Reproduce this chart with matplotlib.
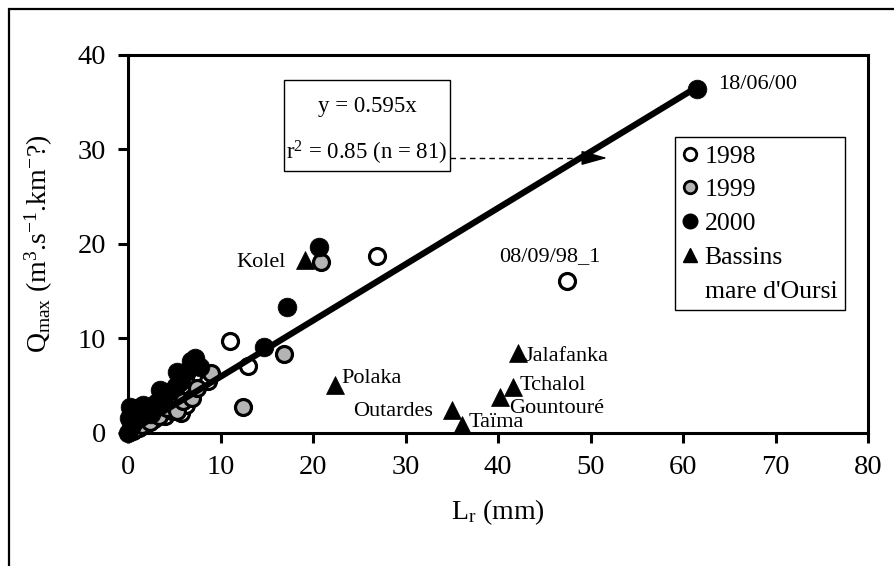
import numpy as np
import matplotlib
matplotlib.use("Agg")
import matplotlib.pyplot as plt
from matplotlib.lines import Line2D
from matplotlib.patches import Rectangle

plt.rcParams['font.family'] = ['Liberation Serif', 'DejaVu Serif']
plt.rcParams['mathtext.fontset'] = 'custom'
plt.rcParams['mathtext.rm'] = 'Liberation Serif'
plt.rcParams['mathtext.it'] = 'Liberation Serif:italic'

# data (Lr in mm, Qmax in m3/s/km2)
x1998 = [0.5, 1.2, 2.0, 2.8, 4.0, 4.8, 5.7, 6.3, 6.6, 7.4, 7.9, 8.6, 11.0, 13.0, 26.9, 47.4]
y1998 = [0.2, 0.5, 0.9, 1.5, 1.8, 2.3, 2.1, 3.0, 4.6, 5.2, 5.8, 5.5, 9.7, 7.1, 18.7, 16.1]

x1999 = [0.8, 1.5, 2.4, 3.4, 4.2, 5.3, 6.0, 6.9, 7.5, 9.0, 12.4, 16.9, 20.9]
y1999 = [0.4, 0.8, 1.2, 1.8, 2.6, 2.3, 3.4, 3.7, 4.8, 6.3, 2.8, 8.4, 18.1]

x2000 = [0.0, 0.3, 0.1, 0.2, 1.0, 1.6, 2.5, 3.0, 3.8, 3.5, 4.3, 5.2, 5.6, 5.3,
         6.4, 6.8, 7.2, 7.8, 0.6, 1.2, 14.7, 17.2, 20.6, 61.5]
y2000 = [0.0, 0.6, 1.6, 2.7, 2.6, 3.0, 2.0, 3.2, 3.8, 4.6, 4.3, 5.0, 5.4, 6.5,
         6.6, 7.6, 7.9, 7.0, 1.2, 1.8, 9.1, 13.3, 19.7, 36.4]

basins = ['Kolel', 'Polaka', 'Outardes', 'Taïma', 'Gountouré', 'Tchalol', 'Jalafanka']
x_basins = [19.1, 22.4, 35.0, 36.1, 40.2, 41.6, 42.2]
y_basins = [18.3, 5.1, 2.4, 0.8, 3.8, 4.9, 8.5]

slope = 0.595
x_fit_max = 61.5

fig = plt.figure(figsize=(8.95, 5.66), dpi=100, facecolor="white")
ax = fig.add_axes([0.143, 0.235, 0.827, 0.668])

# outer frame of the figure (only left and top edges visible)
fig.patches.append(Rectangle((0.010, -0.1), 1.2, 1.084, transform=fig.transFigure,
                             fill=False, edgecolor='black', linewidth=1.6))

xf = np.array([0, x_fit_max])
ax.plot(xf, slope * xf, color='black', linewidth=4.5, zorder=4, solid_capstyle='butt')

ax.plot(x1998, y1998, 'o', ms=11.5, mfc='white', mec='black', mew=2.3, clip_on=False, zorder=3)
ax.plot(x1999, y1999, 'o', ms=11.5, mfc='#b4b4b4', mec='black', mew=2.3, clip_on=False, zorder=3)
ax.plot(x2000, y2000, 'o', ms=13.5, mfc='black', mec='black', mew=0.5, clip_on=False, zorder=3)
ax.plot(x_basins, y_basins, '^', ms=13, mfc='black', mec='black', mew=0.5, clip_on=False, zorder=3)

fs = 16
ax.text(63.8, 36.4, '18/06/00', fontsize=fs, ha='left', va='baseline')
ax.text(45.6, 18.2, '08/09/98_1', fontsize=fs, ha='center', va='baseline')
ax.text(17.0, 17.6, 'Kolel', fontsize=fs, ha='right', va='baseline')
ax.text(23.1, 5.3, 'Polaka', fontsize=fs, ha='left', va='baseline')
ax.text(33.0, 1.8, 'Outardes', fontsize=fs, ha='right', va='baseline')
ax.text(36.8, 0.6, 'Taïma', fontsize=fs, ha='left', va='baseline')
ax.text(41.2, 2.1, 'Gountouré', fontsize=fs, ha='left', va='baseline')
ax.text(42.3, 4.55, 'Tchalol', fontsize=fs, ha='left', va='baseline')
ax.text(42.9, 7.6, 'Jalafanka', fontsize=fs, ha='left', va='baseline')

# regression equation box and arrow
ax.add_patch(Rectangle((16.9, 27.7), 17.9, 9.6, fill=False, edgecolor='black',
                       linewidth=1.0, zorder=5))
ax.text(25.85, 34.5, 'y = 0.595x', fontsize=16.5, ha='center', va='center')
ax.text(25.85, 29.6, r'r$^\mathregular{2}$ = 0.85 (n = 81)', fontsize=16.5, ha='center', va='center')
ax.plot([34.8, 50.0], [29.1, 29.1], color='black', linewidth=1.0, linestyle=(0, (4, 3)))
ax.annotate('', xy=(51.8, 29.1), xytext=(49.0, 29.1),
            arrowprops=dict(arrowstyle='-|>,head_length=0.9,head_width=0.25',
                            color='black', linewidth=1.0, mutation_scale=18,
                            shrinkA=0, shrinkB=0))

handles = [
    Line2D([], [], marker='o', ls='', ms=9, mfc='white', mec='black', mew=2),
    Line2D([], [], marker='o', ls='', ms=9, mfc='#b4b4b4', mec='black', mew=2),
    Line2D([], [], marker='o', ls='', ms=10.5, mfc='black', mec='black'),
    Line2D([], [], marker='^', ls='', ms=10.5, mfc='black', mec='black'),
    Line2D([], [], ls='', marker=''),
]
labels = ['1998', '1999', '2000', 'Bassins', "mare d'Oursi"]
leg = ax.legend(handles, labels, loc='upper left', bbox_to_anchor=(0.739, 0.783),
                borderaxespad=0, fontsize=18.5, frameon=True, fancybox=False,
                handlelength=0.6, handletextpad=0.25, labelspacing=0.42,
                borderpad=0.3, framealpha=1)
leg.get_frame().set_edgecolor('black')
leg.get_frame().set_linewidth(1.0)

ax.set_xlim(0, 80)
ax.set_ylim(0, 40)
ax.set_xticks(np.arange(0, 81, 10))
ax.set_yticks(np.arange(0, 41, 10))
ax.tick_params(axis='both', direction='out', length=7, width=2.2, labelsize=20.5)
ax.tick_params(axis='x', pad=9)
ax.tick_params(axis='y', pad=9)
for s in ax.spines.values():
    s.set_linewidth(2.2)

ax.set_xlabel(r'L$_\mathregular{r}$ (mm)', fontsize=20, labelpad=12)
ax.set_ylabel(r'Q$_\mathregular{max}$ (m$^\mathregular{3}$.s$^\mathregular{-1}$.km$^\mathregular{-}$?)',
              fontsize=20, labelpad=16)

fig.savefig('out.png', dpi=100, facecolor='white')
